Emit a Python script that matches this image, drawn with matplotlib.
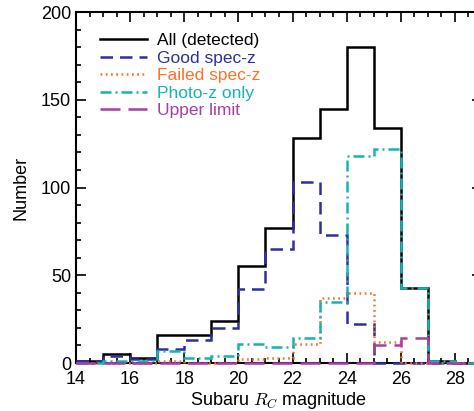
import numpy as np
import matplotlib
matplotlib.use("Agg")
import matplotlib.pyplot as plt
from matplotlib.ticker import MultipleLocator

plt.rcParams['font.family'] = ['Liberation Sans', 'DejaVu Sans']
plt.rcParams['mathtext.fontset'] = 'cm'

# magnitude bins, 1 mag wide
edges = np.arange(14, 30, 1)

all_detected = [1, 5, 3, 16, 16, 24, 55, 77, 128, 145, 180, 134, 43, 1, 0]
good_specz = [1, 4, 2, 8, 13, 20, 42, 65, 103, 73, 22, 0, 0, 0, 0]
failed_specz = [0, 0, 0, 1, 0, 0, 2, 3, 11, 37, 40, 12, 0, 0, 0]
photoz_only = [0, 1, 1, 7, 3, 4, 11, 9, 14, 35, 118, 122, 43, 1, 0]
upper_limit = [0, 0, 0, 0, 0, 0, 0, 0, 0, 0, 0, 10, 14, 0, 0]

labels = ["All (detected)", "Good spec-z", "Failed spec-z", "Photo-z only", "Upper limit"]
colors = ["black", "#2e2e9c", "#ff6f2a", "#17b2b2", "#a43fa3"]
styles = ["-", (0, (5.0, 2.8)), (0, (0.7, 1.4)), (0, (4.4, 1.6, 0.8, 1.6)), (0, (8, 3.2))]

fig = plt.figure(figsize=(4.74, 4.11), dpi=100)
ax = fig.add_axes([76 / 474, 48 / 411, 406 / 474, 351 / 411])

series = [all_detected, good_specz, failed_specz, photoz_only, upper_limit]
for vals, lab, c, ls in zip(series, labels, colors, styles):
    ax.stairs(vals, edges, color=c, linestyle=ls, linewidth=1.8, label=lab,
              baseline=None, zorder=3, clip_on=False)

ax.set_xlim(14, 29)
ax.set_ylim(0, 200)
ax.xaxis.set_major_locator(MultipleLocator(2))
ax.xaxis.set_minor_locator(MultipleLocator(0.5))
ax.yaxis.set_major_locator(MultipleLocator(50))
ax.yaxis.set_minor_locator(MultipleLocator(10))
ax.tick_params(which='both', direction='in', top=True, right=True, width=1.2,
               labelsize=13)
ax.tick_params(which='major', length=7)
ax.tick_params(which='minor', length=3.5)
ax.tick_params(axis='x', pad=6)
for sp in ax.spines.values():
    sp.set_linewidth(1.5)

ax.set_xlabel("Subaru $R_C$ magnitude", fontsize=13, labelpad=1)
ax.set_ylabel("Number", fontsize=13, labelpad=8)

leg = ax.legend(loc='upper left', bbox_to_anchor=(0.02, 0.985), frameon=False,
                fontsize=12.5, handlelength=2.7, handletextpad=0.6,
                labelspacing=0.14, labelcolor='linecolor')

fig.savefig("out.png", dpi=100)
